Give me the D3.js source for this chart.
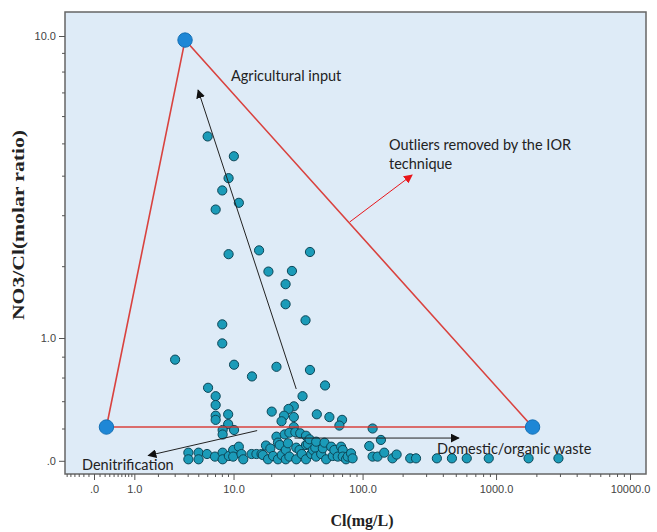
<!DOCTYPE html>
<html>
<head>
<meta charset="utf-8">
<script src="https://cdn.jsdelivr.net/npm/d3@7"></script>
<style>
  html, body { margin: 0; padding: 0; background: #fff; }
  svg { display: block; }
</style>
</head>
<body>
<div id="chart"></div>
<script>
// Cl (mg/L) and NO3/Cl molar ratio of the samples
const clValues = [
  6.05, 10.06, 9.1, 8.06, 11.05, 7.09, 9.1, 16.06, 39.9, 19.03, 29, 25.9, 25.9, 36.9,
  8.06, 8.06, 3.03, 10.1, 22.0, 14.1, 39.9, 52, 6.1, 35, 7.09, 7.09, 30, 27.3, 20.2,
  9.03, 7.09, 45, 25.2, 30, 56.1, 7.09, 70, 24.1, 9.03, 66.8, 30, 8.12, 10.1, 8.12,
  119, 137.4, 112.3,
  4.06, 4.06, 5.03, 5.03, 5.97, 6.99, 8.12, 8.12, 9.15, 9.93, 9.93, 11.05, 11.6, 12.0,
  14.0, 15.3, 16.8, 17.2, 18.2, 18.9, 19.7, 20.7, 22.0, 22.6, 22.6, 23.3, 24.2, 25.5,
  26.0, 26.0, 27.0, 27.7, 27.7, 30.8, 31.3, 31.3, 33.2, 33.6, 34.5, 37.2, 37.2, 37.2,
  38.4, 39.6, 40.8, 42, 43.8, 44.5, 44.5, 48.6, 50, 51.5, 53, 57.9, 59.5, 61.2, 64.9,
  68.8, 70.8, 70.8, 75, 77.2, 81.8, 84.1,
  119, 129.6, 145.5, 167.8, 180.3, 228, 252, 361, 468, 604, 882, 1749, 2923
];
const ratioValues = [
  5.24, 4.58, 3.93, 3.60, 3.29, 3.13, 2.21, 2.28, 2.25, 1.91, 1.92, 1.71, 1.42, 1.21,
  1.16, 0.94, 0.77, 0.72, 0.70, 0.61, 0.67, 0.53, 0.51, 0.44, 0.44, 0.37, 0.36, 0.34, 0.32,
  0.30, 0.29, 0.30, 0.29, 0.28, 0.28, 0.26, 0.26, 0.25, 0.23, 0.22, 0.21, 0.19, 0.19, 0.16,
  0.20, 0.125, 0.087,
  0.047, 0.0085, 0.047, 0.0085, 0.039, 0.024, 0.047, 0.0085, 0.0275, 0.063, 0.024, 0.083, 0.039, 0.0085,
  0.039, 0.039, 0.039, 0.033, 0.090, 0.0085, 0.072, 0.0275, 0.146, 0.108, 0.0085, 0.093, 0.033, 0.161,
  0.063, 0.0085, 0.104, 0.172, 0.024, 0.175, 0.077, 0.0085, 0.063, 0.168, 0.039, 0.152, 0.093, 0.0085,
  0.099, 0.129, 0.039, 0.063, 0.077, 0.114, 0.024, 0.039, 0.073, 0.108, 0.0085, 0.083, 0.0275, 0.063, 0.024,
  0.083, 0.063, 0.024, 0.0085, 0.024, 0.043, 0.014,
  0.024, 0.024, 0.047, 0.014, 0.036, 0.014, 0.014, 0.014, 0.014, 0.014, 0.014, 0.014, 0.014
];

// triangle drawn round the samples (end members)
const triangleCl = [3.78, 0.238, 1874];
const triangleRatio = [9.75, 0.21, 0.21];

// process arrows: [cl0, ratio0, cl1, ratio1]
const processArrows = [
  [31.3, 0.50, 4.98, 7.11],
  [15.5, 0.186, 1.54, 0.030],
  [30.4, 0.137, 527, 0.137]
];
const outlierArrow = [80, 2.85, 235.5, 4.02];

const xTickValues = [0, 1, 10, 100, 1000, 10000];
const xTickLabels = [".0", "1.0", "10.0", "100.0", "1000.0", "10000.0"];
const yTickValues = [0, 1, 10];
const yTickLabels = [".0", "1.0", "10.0"];

const width = 657, height = 532;
const frame = { left: 65, top: 12, right: 646, bottom: 474 };

const svg = d3.select("#chart").append("svg")
  .attr("width", width)
  .attr("height", height);

// both axes use a "safe log" scale, log10(1 + v)
const x = d3.scaleSymlog().constant(1)
  .domain([0, 10000])
  .range([94, 630]);

const y = d3.scaleSymlog().constant(1)
  .domain([0, 10])
  .range([460.8, 36]);

// minor ticks, log style within each decade
let xMinor = [];
for (let i = 1; i <= 6; i++) xMinor.push(-i / 10);
for (let i = 1; i <= 9; i++) xMinor.push(i / 10);
[1, 10, 100, 1000].forEach(d => { for (let i = 2; i <= 9; i++) xMinor.push(i * d); });
let yMinor = [0.2, 0.4, 0.6, 0.8];
for (let i = 2; i <= 9; i++) yMinor.push(i);

const defs = svg.append("defs");
defs.append("marker")
  .attr("id", "head-black")
  .attr("viewBox", "0 0 10 10")
  .attr("refX", 9).attr("refY", 5)
  .attr("markerWidth", 9).attr("markerHeight", 9)
  .attr("markerUnits", "userSpaceOnUse")
  .attr("orient", "auto")
  .append("path").attr("d", "M0,0 L10,5 L0,10 Z").attr("fill", "#111");
defs.append("marker")
  .attr("id", "head-red")
  .attr("viewBox", "0 0 10 10")
  .attr("refX", 9).attr("refY", 5)
  .attr("markerWidth", 9).attr("markerHeight", 9)
  .attr("markerUnits", "userSpaceOnUse")
  .attr("orient", "auto")
  .append("path").attr("d", "M0,0 L10,5 L0,10 Z").attr("fill", "#e8161b");

// plot background
svg.append("rect")
  .attr("x", frame.left).attr("y", frame.top)
  .attr("width", frame.right - frame.left)
  .attr("height", frame.bottom - frame.top)
  .attr("fill", "#deebf7");

const points = clValues.map((d, i) => ({ cl: d, ratio: ratioValues[i] }));

svg.append("g")
  .attr("class", "points")
  .selectAll("circle")
  .data(points)
  .join("circle")
    .attr("cx", d => x(d.cl))
    .attr("cy", d => y(d.ratio))
    .attr("r", 4.6)
    .attr("fill", "#1b9bb8")
    .attr("stroke", "#0d4657")
    .attr("stroke-width", 1);

// triangle
const tri = triangleCl.map((d, i) => [x(d), y(triangleRatio[i])]);
svg.append("path")
  .attr("d", d3.line()(tri) + "Z")
  .attr("fill", "none")
  .attr("stroke", "#d8302a")
  .attr("stroke-width", 1.6)
  .attr("stroke-opacity", 0.9);

// arrows
svg.append("g")
  .selectAll("line")
  .data(processArrows)
  .join("line")
    .attr("x1", d => x(d[0])).attr("y1", d => y(d[1]))
    .attr("x2", d => x(d[2])).attr("y2", d => y(d[3]))
    .attr("stroke", "#222")
    .attr("stroke-width", 1)
    .attr("marker-end", "url(#head-black)");

svg.append("line")
  .attr("x1", x(outlierArrow[0])).attr("y1", y(outlierArrow[1]))
  .attr("x2", x(outlierArrow[2])).attr("y2", y(outlierArrow[3]))
  .attr("stroke", "#e8161b")
  .attr("stroke-width", 1)
  .attr("marker-end", "url(#head-red)");

svg.append("g")
  .selectAll("circle")
  .data(tri)
  .join("circle")
    .attr("cx", d => d[0])
    .attr("cy", d => d[1])
    .attr("r", 7.2)
    .attr("fill", "#1e87d6")
    .attr("stroke", "#1670b5")
    .attr("stroke-width", 1);

// annotations
const note = svg.append("g")
  .attr("font-family", "Lato, 'Open Sans', sans-serif")
  .attr("font-size", 14.5)
  .attr("fill", "#222");
note.append("text").attr("x", 231).attr("y", 81).text("Agricultural input");
note.append("text").attr("x", 389).attr("y", 150).text("Outliers removed by the IOR");
note.append("text").attr("x", 389).attr("y", 169).text("technique");
note.append("text").attr("x", 82).attr("y", 470).text("Denitrification");
note.append("text").attr("x", 437).attr("y", 454).text("Domestic/organic waste");

// frame
svg.append("rect")
  .attr("x", frame.left).attr("y", frame.top)
  .attr("width", frame.right - frame.left)
  .attr("height", frame.bottom - frame.top)
  .attr("fill", "none")
  .attr("stroke", "#666")
  .attr("stroke-width", 1.5);

// x axis
const xAxis = svg.append("g")
  .attr("transform", `translate(0,${frame.bottom})`)
  .attr("color", "#555");
xAxis.call(d3.axisBottom(x).tickValues(xMinor).tickSize(3).tickFormat(""))
  .call(g => g.select(".domain").remove());
const xMajor = svg.append("g")
  .attr("transform", `translate(0,${frame.bottom})`)
  .attr("color", "#555");
xMajor.call(d3.axisBottom(x).tickValues(xTickValues).tickSize(6)
    .tickFormat((d, i) => xTickLabels[i]))
  .call(g => g.select(".domain").remove())
  .call(g => g.selectAll("text")
    .attr("font-family", "'Liberation Sans', Arial, sans-serif")
    .attr("font-size", 11)
    .attr("fill", "#444")
    .attr("dy", "0.9em"));

// y axis
const yAxis = svg.append("g")
  .attr("transform", `translate(${frame.left},0)`)
  .attr("color", "#555");
yAxis.call(d3.axisLeft(y).tickValues(yMinor).tickSize(3).tickFormat(""))
  .call(g => g.select(".domain").remove());
const yMajor = svg.append("g")
  .attr("transform", `translate(${frame.left},0)`)
  .attr("color", "#555");
yMajor.call(d3.axisLeft(y).tickValues(yTickValues).tickSize(6)
    .tickFormat((d, i) => yTickLabels[i]))
  .call(g => g.select(".domain").remove())
  .call(g => g.selectAll("text")
    .attr("font-family", "'Liberation Sans', Arial, sans-serif")
    .attr("font-size", 11)
    .attr("fill", "#444"));

// axis titles
svg.append("text")
  .attr("x", 362).attr("y", 526)
  .attr("text-anchor", "middle")
  .attr("font-family", "'Liberation Serif', 'Times New Roman', serif")
  .attr("font-weight", "bold")
  .attr("font-size", 16)
  .attr("fill", "#222")
  .text("Cl(mg/L)");

svg.append("text")
  .attr("transform", "translate(24,225) rotate(-90)")
  .attr("text-anchor", "middle")
  .attr("font-family", "'Liberation Serif', 'Times New Roman', serif")
  .attr("font-weight", "bold")
  .attr("font-size", 16)
  .attr("textLength", 190)
  .attr("lengthAdjust", "spacingAndGlyphs")
  .attr("fill", "#222")
  .text("NO3/Cl(molar ratio)");
</script>
</body>
</html>
